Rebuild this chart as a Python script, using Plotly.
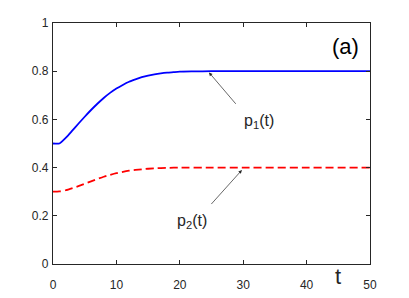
import plotly.graph_objects as go

t_p1 = [0, 1, 2, 3, 4, 5, 6, 7, 8, 9, 10, 11, 12, 13, 14, 15, 16, 17, 18, 19, 20, 22, 25, 30, 40, 50]
p1_values = [0.5, 0.5, 0.523, 0.552, 0.582, 0.611, 0.639, 0.665, 0.689, 0.710, 0.728, 0.743, 0.756, 0.766, 0.775, 0.782, 0.787, 0.791, 0.794, 0.796, 0.798, 0.799, 0.8, 0.8, 0.8, 0.8]

t_p2 = [0, 1, 2, 4, 6, 8, 10, 12, 14, 16, 18, 20, 25, 30, 40, 50]
p2_values = [0.3, 0.301, 0.306, 0.323, 0.343, 0.362, 0.377, 0.387, 0.393, 0.397, 0.399, 0.4, 0.4, 0.4, 0.4, 0.4]

x_ticks = [0, 10, 20, 30, 40, 50]
y_ticks = [0, 0.2, 0.4, 0.6, 0.8, 1]
y_tick_labels = ["0", "0.2", "0.4", "0.6", "0.8", "1"]

ink = "#262626"
font = "Liberation Sans, Arial, sans-serif"

fig = go.Figure()
fig.add_trace(go.Scatter(x=t_p1, y=p1_values, mode="lines",
                         line=dict(color="#0000ff", width=1.8, shape="spline", smoothing=0.6)))
fig.add_trace(go.Scatter(x=t_p2, y=p2_values, mode="lines",
                         line=dict(color="#ff0000", width=1.8, dash="8px,4px", shape="spline", smoothing=0.6)))

arrow = dict(showarrow=True, arrowhead=2, arrowsize=1, arrowwidth=0.7, arrowcolor=ink,
             xref="x", yref="y", axref="x", ayref="y", text=" ")
annotations = [
    dict(x=24.6, y=0.795, ax=29.3, ay=0.650, **arrow),
    dict(x=29.8, y=0.39, ax=24.5, ay=0.235, **arrow),
    dict(x=32.5, y=0.59, xref="x", yref="y", text="p<sub>1</sub>(t)", showarrow=False,
         font=dict(family=font, size=16, color=ink)),
    dict(x=22.0, y=0.175, xref="x", yref="y", text="p<sub>2</sub>(t)", showarrow=False,
         font=dict(family=font, size=16, color=ink)),
    dict(x=46.2, y=0.904, xref="x", yref="y", text="(a)", showarrow=False,
         font=dict(family=font, size=22, color="#000000")),
    dict(x=45.0, y=-0.11, xref="x", yref="paper", text="t", showarrow=False,
         font=dict(family=font, size=22, color=ink)),
]

axis_common = dict(showline=True, linecolor=ink, linewidth=1.2, mirror="ticks",
                   ticks="inside", ticklen=4, tickwidth=1, tickcolor=ink,
                   showgrid=False, zeroline=False, automargin=False,
                   tickfont=dict(family=font, size=12, color=ink))

fig.update_layout(
    width=409, height=298,
    margin=dict(l=53, r=39, t=23, b=34),
    paper_bgcolor="white", plot_bgcolor="white",
    showlegend=False,
    xaxis=dict(range=[0, 50], tickvals=x_ticks, ticklabelstandoff=9, **axis_common),
    yaxis=dict(range=[0, 1], tickvals=y_ticks, ticktext=y_tick_labels, ticklabelstandoff=1, **axis_common),
    annotations=annotations,
)

fig.write_html("out.html", config={"displayModeBar": False},
               post_script="document.body.style.margin='0';document.body.style.overflow='hidden';")
